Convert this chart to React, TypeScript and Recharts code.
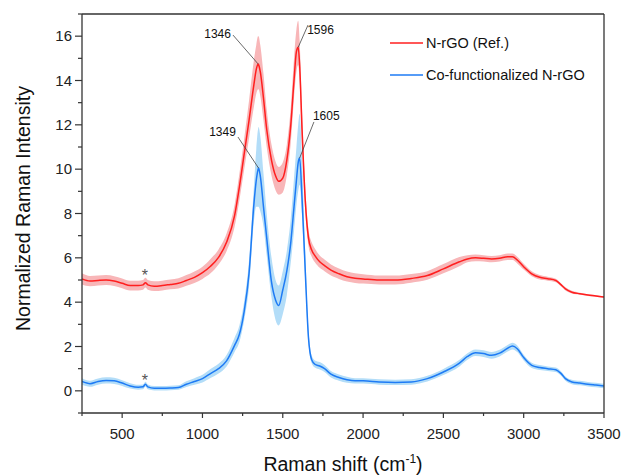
import { ComposedChart, Line, Area, XAxis, YAxis, Legend, ReferenceLine, ReferenceDot } from 'recharts';

const FONT = 'Arial, "Liberation Sans", sans-serif';

// Raman shift (cm-1)
const shift = [
  250, 300, 350, 400, 450, 500, 550, 600, 630, 645, 660, 700, 750, 800, 850, 900, 950, 1000,
  1050, 1100, 1150, 1200, 1230, 1260, 1290, 1320, 1335, 1346, 1349, 1360, 1380, 1400, 1430, 1455, 1475, 1500,
  1525, 1550, 1570, 1585, 1596, 1605, 1620, 1640, 1660, 1680, 1700, 1730, 1760, 1800, 1850, 1900, 1950, 2000,
  2100, 2200, 2300, 2400, 2500, 2600, 2650, 2700, 2750, 2800, 2850, 2900, 2930, 2960, 3000, 3050, 3100, 3150,
  3200, 3230, 3260, 3300, 3350, 3400, 3450, 3500,
];

// N-rGO (Ref.)
const refMean = [
  5.05, 4.95, 4.98, 5.0, 4.95, 4.85, 4.75, 4.75, 4.78, 4.88, 4.78, 4.72, 4.75, 4.8, 4.85, 4.98, 5.12, 5.33,
  5.62, 6.02, 6.7, 7.9, 9.2, 10.7, 12.2, 13.8, 14.5, 14.75, 14.72, 14.4, 13.2, 11.8, 10.4, 9.7, 9.45, 9.6,
  10.4, 12.0, 14.0, 15.3, 15.5, 14.7, 11.8, 8.6, 6.9, 6.35, 6.1, 5.82, 5.65, 5.45, 5.28, 5.15, 5.08, 5.05,
  5.0, 5.0, 5.07, 5.2, 5.5, 5.82, 5.95, 6.0, 5.98, 5.95, 5.98, 6.05, 6.05, 5.9, 5.6, 5.28, 5.12, 5.06,
  4.98, 4.8, 4.6, 4.45, 4.38, 4.32, 4.28, 4.23,
];
const refLow = [
  4.8, 4.72, 4.75, 4.78, 4.73, 4.63, 4.53, 4.53, 4.56, 4.66, 4.56, 4.5, 4.53, 4.58, 4.62, 4.74, 4.86, 5.05,
  5.3, 5.7, 6.3, 7.4, 8.6, 10.0, 11.4, 12.8, 13.4, 13.6, 13.6, 13.3, 12.2, 11.0, 9.7, 9.05, 8.85, 8.95,
  9.7, 11.2, 13.2, 14.4, 14.7, 13.9, 11.0, 8.1, 6.55, 6.05, 5.8, 5.55, 5.4, 5.2, 5.05, 4.93, 4.87, 4.84,
  4.8, 4.8, 4.88, 5.01, 5.3, 5.62, 5.8, 5.85, 5.84, 5.8, 5.84, 5.9, 5.9, 5.75, 5.47, 5.17, 5.02, 4.97,
  4.9, 4.73, 4.53, 4.39, 4.33, 4.28, 4.24, 4.2,
];
const refHigh = [
  5.3, 5.18, 5.2, 5.22, 5.17, 5.07, 4.97, 4.97, 5.0, 5.1, 5.0, 4.94, 4.97, 5.02, 5.08, 5.22, 5.38, 5.6,
  5.95, 6.38, 7.1, 8.4, 9.8, 11.4, 13.1, 14.9, 15.6, 16.0, 16.0, 15.6, 14.3, 12.7, 11.1, 10.35, 10.1, 10.3,
  11.1, 12.8, 15.0, 16.3, 16.7, 15.8, 12.7, 9.2, 7.3, 6.7, 6.42, 6.1, 5.92, 5.7, 5.52, 5.38, 5.3, 5.26,
  5.2, 5.2, 5.27, 5.4, 5.72, 6.04, 6.12, 6.15, 6.12, 6.08, 6.12, 6.2, 6.2, 6.05, 5.73, 5.39, 5.22, 5.15,
  5.06, 4.87, 4.67, 4.51, 4.43, 4.36, 4.32, 4.26,
];

// Co-functionalized N-rGO
const coMean = [
  0.42, 0.32, 0.42, 0.47, 0.45, 0.35, 0.22, 0.16, 0.18, 0.3, 0.18, 0.12, 0.12, 0.13, 0.15, 0.3, 0.42, 0.55,
  0.78, 1.0, 1.35, 2.05, 2.55, 3.6, 5.3, 8.4, 9.5, 9.98, 10.05, 9.7, 8.3, 6.9, 4.9, 4.1, 3.85, 4.55,
  5.4, 6.7, 8.3, 9.5, 10.3, 10.5, 8.7, 5.4, 2.4, 1.4, 1.2, 1.12, 1.0, 0.75, 0.6, 0.5, 0.45, 0.45,
  0.4, 0.38, 0.4, 0.55, 0.85, 1.25, 1.55, 1.72, 1.68, 1.6, 1.7, 1.92, 2.02, 1.9, 1.5, 1.15, 1.05, 1.0,
  0.95, 0.8, 0.55, 0.4, 0.35, 0.3, 0.26, 0.22,
];
const coLow = [
  0.27, 0.18, 0.28, 0.33, 0.31, 0.22, 0.1, 0.05, 0.07, 0.19, 0.07, 0.02, 0.02, 0.03, 0.05, 0.17, 0.27, 0.38,
  0.58, 0.78, 1.1, 1.75, 2.2, 3.2, 4.7, 7.6, 8.3, 8.3, 8.3, 8.1, 7.4, 6.1, 4.2, 3.2, 2.95, 3.45,
  4.3, 5.8, 7.2, 8.4, 9.0, 9.3, 7.9, 4.9, 2.15, 1.25, 1.05, 0.96, 0.85, 0.6, 0.46, 0.37, 0.33, 0.33,
  0.28, 0.26, 0.28, 0.42, 0.71, 1.1, 1.4, 1.57, 1.53, 1.45, 1.55, 1.77, 1.87, 1.75, 1.37, 1.03, 0.94, 0.9,
  0.85, 0.7, 0.45, 0.3, 0.25, 0.2, 0.16, 0.12,
];
const coHigh = [
  0.57, 0.46, 0.56, 0.61, 0.59, 0.48, 0.34, 0.27, 0.29, 0.41, 0.29, 0.22, 0.22, 0.23, 0.25, 0.43, 0.57, 0.72,
  0.98, 1.22, 1.62, 2.4, 2.95, 4.05, 5.9, 9.2, 10.9, 11.8, 11.9, 11.5, 9.8, 8.0, 6.0, 5.0, 4.75, 5.4,
  6.3, 7.8, 9.6, 11.0, 12.0, 12.5, 10.5, 6.3, 2.8, 1.6, 1.37, 1.3, 1.17, 0.9, 0.74, 0.63, 0.57, 0.57,
  0.52, 0.5, 0.52, 0.68, 0.99, 1.4, 1.7, 1.87, 1.83, 1.75, 1.85, 2.07, 2.17, 2.05, 1.63, 1.27, 1.16, 1.1,
  1.05, 0.9, 0.65, 0.5, 0.45, 0.4, 0.36, 0.32,
];

const seriesNames = ['N-rGO (Ref.)', 'Co-functionalized N-rGO'];

const xTicks = [250, 500, 750, 1000, 1250, 1500, 1750, 2000, 2250, 2500, 2750, 3000, 3250, 3500];
const yTicks = [-1, 0, 1, 2, 3, 4, 5, 6, 7, 8, 9, 10, 11, 12, 13, 14, 15, 16, 17];

// peak labels: peak position, leader start, text anchor
const peakLabels = [
  { text: '1346', px: 1346, py: 14.75, lx: 1190, ly: 16.05, tx: 1094, ty: 16.12 },
  { text: '1596', px: 1596, py: 15.5, lx: 1657, ly: 16.5, tx: 1735, ty: 16.3 },
  { text: '1349', px: 1349, py: 10.05, lx: 1221, ly: 11.45, tx: 1125, ty: 11.68 },
  { text: '1605', px: 1605, py: 10.5, lx: 1694, ly: 12.13, tx: 1771, ty: 12.44 },
];
const stars = [
  { x: 642, y: 5.3 },
  { x: 642, y: 0.58 },
];

const rows = shift.map((s, i) => ({
  shift: s,
  ref: refMean[i],
  refBand: [refLow[i], refHigh[i]],
  co: coMean[i],
  coBand: [coLow[i], coHigh[i]],
}));

const AXIS = '#333';

function XTick({ x, y, payload }: any) {
  const major = payload.value % 500 === 0;
  return (
    <g>
      <line x1={x} x2={x} y1={y} y2={y + (major ? 5 : 3)} stroke={AXIS} strokeWidth={1.2} />
      {major && (
        <text x={x} y={y + 26} textAnchor="middle" fontSize={15} fill="#222" fontFamily={FONT}>
          {payload.value}
        </text>
      )}
    </g>
  );
}

function YTick({ x, y, payload }: any) {
  const v = payload.value;
  const major = v % 2 === 0 && v >= 0 && v <= 16;
  return (
    <g>
      <line x1={x - (major ? 7 : 4)} x2={x} y1={y} y2={y} stroke={AXIS} strokeWidth={1.2} />
      {major && (
        <text x={x - 10} y={y + 5} textAnchor="end" fontSize={15} fill="#222" fontFamily={FONT}>
          {v}
        </text>
      )}
    </g>
  );
}

function renderLegend({ payload }: any) {
  const items = (payload || [])
    .filter((p: any) => p.type !== 'none' && seriesNames.includes(p.value))
    .sort((a: any, b: any) => seriesNames.indexOf(a.value) - seriesNames.indexOf(b.value));
  return (
    <div style={{ fontFamily: FONT, fontSize: 14.5, color: '#111' }}>
      {items.map((p: any) => (
        <div key={p.value} style={{ display: 'flex', alignItems: 'center', height: 32, whiteSpace: 'nowrap' }}>
          <svg width={38} height={4} style={{ display: 'block' }}>
            <line x1={2} x2={35} y1={2} y2={2} stroke={p.color} strokeWidth={1.6} />
          </svg>
          <span>{p.value}</span>
        </div>
      ))}
    </div>
  );
}

export default function App() {
  return (
    <div style={{ position: 'absolute', left: 0, top: 0, width: 622, height: 476, background: '#fff' }}>
      <ComposedChart width={622} height={476} data={rows} margin={{ top: 0, right: 0, bottom: 13, left: 22 }}>
        <XAxis
          dataKey="shift"
          type="number"
          domain={[250, 3500]}
          ticks={xTicks}
          interval={0}
          allowDataOverflow
          height={50}
          tickSize={0}
          tickMargin={0}
          tickLine={false}
          tick={<XTick />}
          axisLine={{ stroke: AXIS, strokeWidth: 1.3 }}
          label={({ viewBox }: any) => (
            <text
              x={viewBox.x + viewBox.width / 2}
              y={viewBox.y + 58}
              textAnchor="middle"
              fontSize={19.5}
              fill="#111"
              fontFamily={FONT}
            >
              Raman shift (cm
              <tspan dy={-8} fontSize={12}>-1</tspan>
              <tspan dy={8}>)</tspan>
            </text>
          )}
        />
        <XAxis
          xAxisId="top"
          orientation="top"
          type="number"
          domain={[250, 3500]}
          height={14}
          tick={false}
          tickLine={false}
          axisLine={{ stroke: AXIS, strokeWidth: 1.3 }}
        />
        <YAxis
          type="number"
          domain={[-1, 17]}
          ticks={yTicks}
          interval={0}
          allowDataOverflow
          width={60}
          tickSize={0}
          tickMargin={0}
          tickLine={false}
          tick={<YTick />}
          axisLine={{ stroke: AXIS, strokeWidth: 1.3 }}
          label={({ viewBox }: any) => {
            const cx = viewBox.x + 7.5;
            const cy = viewBox.y + viewBox.height / 2 - 5;
            return (
              <text
                x={cx}
                y={cy}
                transform={`rotate(-90, ${cx}, ${cy})`}
                textAnchor="middle"
                fontSize={19.5}
                fill="#111"
                fontFamily={FONT}
              >
                Normalized Raman Intensity
              </text>
            );
          }}
        />
        <YAxis
          yAxisId="right"
          orientation="right"
          type="number"
          domain={[-1, 17]}
          width={18}
          tick={false}
          tickLine={false}
          axisLine={{ stroke: AXIS, strokeWidth: 1.3 }}
        />

        <Area
          type="monotone"
          dataKey="refBand"
          stroke="none"
          fill="#f8b6b8"
          fillOpacity={1}
          legendType="none"
          activeDot={false}
          isAnimationActive={false}
        />
        <Area
          type="monotone"
          dataKey="coBand"
          stroke="none"
          fill="#b3ddf8"
          fillOpacity={1}
          legendType="none"
          activeDot={false}
          isAnimationActive={false}
        />
        <Line
          type="monotone"
          dataKey="ref"
          name={seriesNames[0]}
          stroke="#ff1f1f"
          strokeWidth={1.5}
          dot={false}
          activeDot={false}
          isAnimationActive={false}
        />
        <Line
          type="monotone"
          dataKey="co"
          name={seriesNames[1]}
          stroke="#1e7bf5"
          strokeWidth={1.5}
          dot={false}
          activeDot={false}
          isAnimationActive={false}
        />

        {peakLabels.map((p) => (
          <ReferenceLine
            key={'l' + p.text}
            segment={[
              { x: p.lx, y: p.ly },
              { x: p.px, y: p.py },
            ]}
            stroke="#444"
            strokeWidth={0.8}
          />
        ))}
        {peakLabels.map((p) => (
          <ReferenceDot
            key={'t' + p.text}
            x={p.tx}
            y={p.ty}
            r={0}
            shape={(s: any) => (
              <text x={s.cx} y={s.cy + 4.5} textAnchor="middle" fontSize={12} fill="#111" fontFamily={FONT}>
                {p.text}
              </text>
            )}
          />
        ))}
        {stars.map((s, i) => (
          <ReferenceDot
            key={'s' + i}
            x={s.x}
            y={s.y}
            r={0}
            shape={(d: any) => (
              <text x={d.cx} y={d.cy + 8} textAnchor="middle" fontSize={16} fill="#555" fontFamily={FONT}>
                *
              </text>
            )}
          />
        ))}

        <Legend
          layout="vertical"
          align="center"
          verticalAlign="middle"
          itemSorter={null as any}
          content={renderLegend}
          wrapperStyle={{ top: 27, left: 388, width: 230 }}
        />
      </ComposedChart>
    </div>
  );
}
